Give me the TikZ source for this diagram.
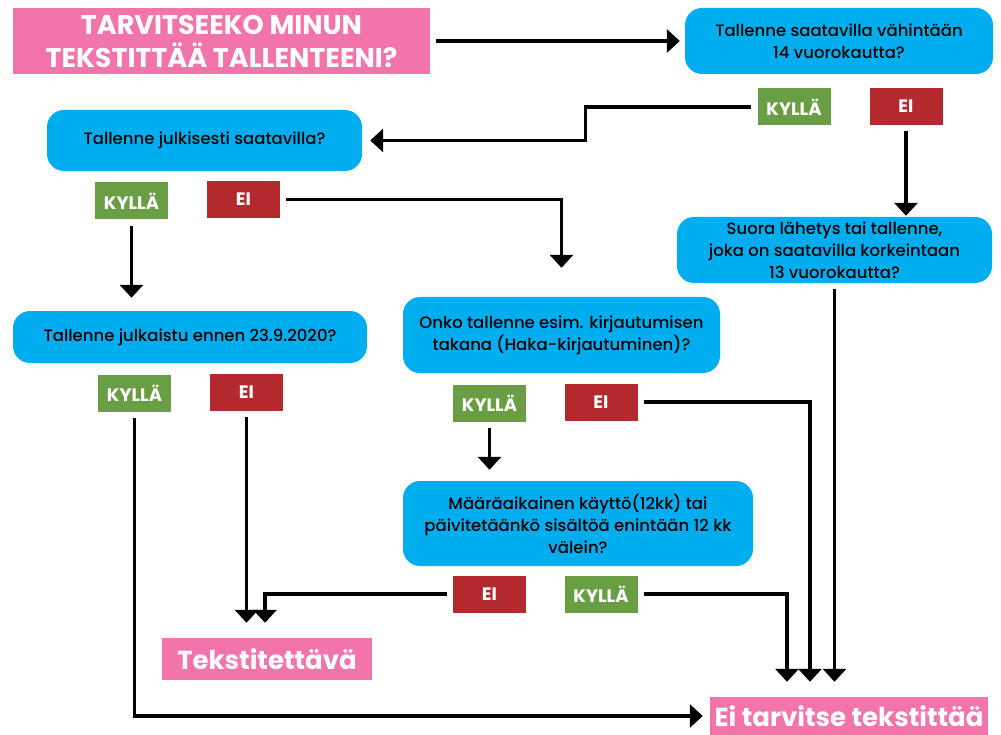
\documentclass[tikz,border=0pt]{standalone}
\usepackage{fontspec}
\setmainfont{Poppins}
\newfontfamily\qfont{Poppins Medium}
\usetikzlibrary{arrows.meta}
\definecolor{bannerpink}{HTML}{F174AB}
\definecolor{qblue}{HTML}{00AEEF}
\definecolor{yesgreen}{HTML}{6A9E45}
\definecolor{nored}{HTML}{B3292E}
\tikzset{
  flow/.style={line width=3.6pt, -{Triangle[width=23pt,length=13pt]}, shorten <=6pt},
  question/.style={fill=qblue, rounded corners=17pt, align=center, inner sep=0pt,
    font=\qfont\fontsize{16.5}{22}\selectfont},
  answer/.style={text=white, inner sep=0pt, minimum width=73pt, minimum height=37pt,
    font=\bfseries\fontsize{18}{20}\selectfont},
  yesbox/.style={answer, fill=yesgreen},
  nobox/.style={answer, fill=nored},
  banner/.style={fill=bannerpink, text=white, align=center, inner sep=0pt,
    font=\bfseries\fontsize{27}{33}\selectfont},
  result/.style={banner, font=\bfseries\fontsize{26}{30}\selectfont}
}
\begin{document}
\begin{tikzpicture}[x=1pt, y=-1pt]
    \useasboundingbox (0,0) rectangle (1001,735);
    \node[banner, minimum width=417pt, minimum height=66pt] (title) at (221.5,41)
        {TARVITSEEKO MINUN\\TEKSTITTÄÄ TALLENTEENI?};
    \node[question, minimum width=308pt, minimum height=66pt] (q14) at (839,41)
        {Tallenne saatavilla vähintään\\14 vuorokautta?};
    \node[question, minimum width=315pt, minimum height=61pt] (qpublic) at (204.5,140.5)
        {Tallenne julkisesti saatavilla?};
    \node[question, minimum width=315pt, minimum height=66pt] (q13) at (834.5,250)
        {Suora lähetys tai tallenne,\\joka on saatavilla korkeintaan\\13 vuorokautta?};
    \node[question, minimum width=354pt, minimum height=52pt] (qdate) at (190,337)
        {Tallenne julkaistu ennen 23.9.2020?};
    \node[question, minimum width=317pt, minimum height=76pt] (qlogin) at (561.5,335)
        {Onko tallenne esim. kirjautumisen\\takana (Haka-kirjautuminen)?};
    \node[question, minimum width=350pt, minimum height=85pt] (qfixed) at (578,523.5)
        {Määräaikainen käyttö(12kk) tai\\päivitetäänkö sisältöä enintään 12 kk\\välein?};
    \node[result, minimum width=210pt, minimum height=42pt] (subt) at (267,659)
        {Tekstitettävä};
    \node[result, minimum width=278pt, minimum height=38pt] (nosubt) at (849,716)
        {Ei tarvitse tekstittää};
    \foreach \n/\x/\y in {yes1/794/107, yes2/131.5/201, yes3/134.5/393.5, yes4/489.5/403.5, yes5/601/594} {
        \node[yesbox] (\n) at (\x,\y) {KYLLÄ};
    }
    \foreach \n/\x/\y in {no1/906/106.5, no2/243.5/199.5, no3/246.5/392, no4/601/402, no5/489.5/594} {
        \node[nobox] (\n) at (\x,\y) {EI};
    }
    \draw[flow, shorten >=5pt] (title.east) -- (q14.west);
    \draw[flow, shorten >=8pt] (yes1.west) -- ++(-172,0) |- (qpublic.east);
    \draw[flow, shorten >=1pt] (no1.south) -- (no1.south |- q13.north);
    \draw[flow, shorten >=13pt] (yes2.south) -- (yes2.south |- qdate.north);
    \draw[flow, shorten >=29pt] (no2.east) -| (qlogin.north);
    \draw[flow, shorten >=7pt] (yes3.south) |- (nosubt.west);
    \draw[flow, shorten >=15pt] (no3.south) -- (no3.south |- subt.north);
    \draw[flow, shorten >=11pt] (yes4.south) -- (yes4.south |- qfixed.north);
    \draw[flow, shorten >=15pt] (no4.east) -| ([xshift=-39pt]nosubt.north);
    \draw[flow, shorten >=15pt] (q13.south) -- (q13.south |- nosubt.north);
    \draw[flow, shorten >=15pt] (yes5.east) -| ([xshift=-62pt]nosubt.north);
    \draw[flow, shorten >=15pt] (no5.west) -| ([xshift=-2pt]subt.north);
\end{tikzpicture}
\end{document}
